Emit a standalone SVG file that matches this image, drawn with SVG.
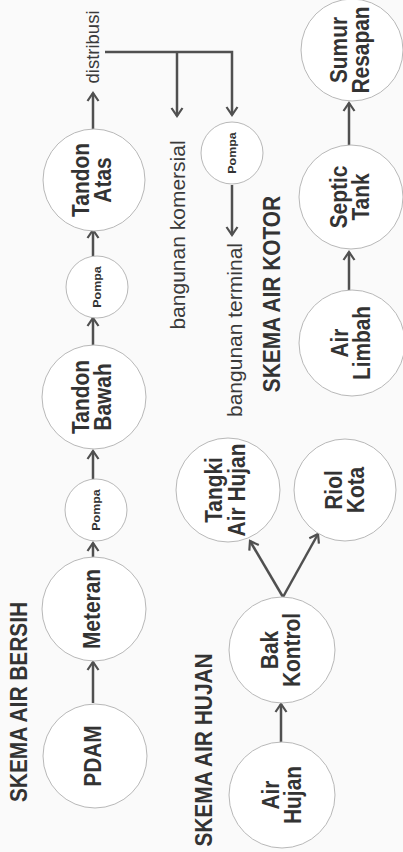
<svg xmlns="http://www.w3.org/2000/svg" width="403" height="852" viewBox="0 0 403 852">
<style>
.node circle{fill:#fff;stroke:#b8b8b8;stroke-width:1}
.lbl{font-family:"Liberation Sans",Arial,sans-serif;font-weight:bold;font-size:24px;fill:#333;text-anchor:middle}
.pl{font-family:"Liberation Sans",Arial,sans-serif;font-weight:bold;font-size:10px;fill:#333;text-anchor:middle}
.reg{font-family:"Liberation Sans",Arial,sans-serif;font-size:21px;fill:#3a3a3a;text-anchor:middle}
.conn line,.conn polyline{stroke:#505050;stroke-width:2.5;fill:none}
</style>
<defs>
<marker id="ah" markerUnits="userSpaceOnUse" markerWidth="14" markerHeight="14" refX="10" refY="7" orient="auto">
<path d="M2,1.5 L10,7 L2,12.5" fill="none" stroke="#505050" stroke-width="2.2"/>
</marker>
</defs>
<rect width="403" height="852" fill="#fafafa"/>

<g id="headings">
<g transform="translate(27,702) rotate(-90) scale(0.87,1)"><text class="lbl" x="0" y="0">SKEMA AIR BERSIH</text></g>
<g transform="translate(212,750) rotate(-90) scale(0.87,1)"><text class="lbl" x="0" y="0">SKEMA AIR HUJAN</text></g>
<g transform="translate(280,294) rotate(-90) scale(0.87,1)"><text class="lbl" x="0" y="0">SKEMA AIR KOTOR</text></g>
</g>

<g id="labels">
<g transform="translate(99,47) rotate(-90)"><text class="reg" style="font-size:18.5px" x="0" y="0">distribusi</text></g>
<g transform="translate(185,235) rotate(-90)"><text class="reg" x="0" y="0">bangunan komersial</text></g>
<g transform="translate(242,330) rotate(-90)"><text class="reg" x="0" y="0">bangunan terminal</text></g>
</g>

<g class="conn" id="connectors">
<line x1="93" y1="703" x2="93" y2="662" marker-end="url(#ah)"/>
<line x1="93" y1="557" x2="93" y2="543" marker-end="url(#ah)"/>
<line x1="93" y1="479" x2="93" y2="451" marker-end="url(#ah)"/>
<line x1="93" y1="345" x2="93" y2="318" marker-end="url(#ah)"/>
<line x1="93" y1="256" x2="93" y2="230" marker-end="url(#ah)"/>
<line x1="93" y1="130" x2="93" y2="93" marker-end="url(#ah)"/>
<polyline points="105,52 232,52 232,115" marker-end="url(#ah)"/>
<line x1="177" y1="52" x2="177" y2="116" marker-end="url(#ah)"/>
<line x1="232" y1="185" x2="232" y2="235" marker-end="url(#ah)"/>
<line x1="349" y1="290" x2="349" y2="252" marker-end="url(#ah)"/>
<line x1="349" y1="145" x2="349" y2="103" marker-end="url(#ah)"/>
<line x1="281" y1="743" x2="281" y2="704" marker-end="url(#ah)"/>
<line x1="283" y1="597" x2="250" y2="541" marker-end="url(#ah)"/>
<line x1="283" y1="597" x2="318" y2="534" marker-end="url(#ah)"/>
</g>

<g id="pdam" class="node"><circle cx="95" cy="756" r="52"/>
<g transform="translate(95,756) rotate(-90) scale(0.87,1)"><text class="lbl" y="6">PDAM</text></g></g>

<g id="meteran" class="node"><circle cx="94" cy="609" r="52"/>
<g transform="translate(94,609) rotate(-90) scale(0.87,1)"><text class="lbl" y="6">Meteran</text></g></g>

<g id="pompa1" class="node"><circle cx="96" cy="510" r="31"/>
<g transform="translate(96,510) rotate(-90) scale(1.25,1)"><text class="pl" y="3.5">Pompa</text></g></g>

<g id="tandon-bawah" class="node"><circle cx="94" cy="397" r="52"/>
<g transform="translate(94,397) rotate(-90) scale(0.87,1)"><text class="lbl" y="-5">Tandon</text><text class="lbl" y="17">Bawah</text></g></g>

<g id="pompa2" class="node"><circle cx="97" cy="287" r="31"/>
<g transform="translate(97,287) rotate(-90) scale(1.25,1)"><text class="pl" y="3.5">Pompa</text></g></g>

<g id="tandon-atas" class="node"><circle cx="94" cy="180" r="51"/>
<g transform="translate(94,180) rotate(-90) scale(0.87,1)"><text class="lbl" y="-5">Tandon</text><text class="lbl" y="17">Atas</text></g></g>

<g id="pompa3" class="node"><circle cx="232" cy="153" r="31"/>
<g transform="translate(232,153) rotate(-90) scale(1.25,1)"><text class="pl" y="3.5">Pompa</text></g></g>

<g id="air-hujan" class="node"><circle cx="282" cy="795" r="53"/>
<g transform="translate(282,795) rotate(-90) scale(0.87,1)"><text class="lbl" y="-3">Air</text><text class="lbl" y="19">Hujan</text></g></g>

<g id="bak-kontrol" class="node"><circle cx="282" cy="650" r="53"/>
<g transform="translate(282,650) rotate(-90) scale(0.87,1)"><text class="lbl" y="-4">Bak</text><text class="lbl" y="18">Kontrol</text></g></g>

<g id="tangki-air-hujan" class="node"><circle cx="228" cy="490" r="52"/>
<g transform="translate(228,490) rotate(-90) scale(0.87,1)"><text class="lbl" y="-6">Tangki</text><text class="lbl" y="17">Air Hujan</text></g></g>

<g id="riol-kota" class="node"><circle cx="345" cy="490" r="51"/>
<g transform="translate(345,490) rotate(-90) scale(0.87,1)"><text class="lbl" y="-3">Riol</text><text class="lbl" y="19">Kota</text></g></g>

<g id="air-limbah" class="node"><circle cx="352" cy="343" r="53"/>
<g transform="translate(352,343) rotate(-90) scale(0.87,1)"><text class="lbl" y="-4">Air</text><text class="lbl" y="18">Limbah</text></g></g>

<g id="septic-tank" class="node"><circle cx="351" cy="197" r="52"/>
<g transform="translate(351,197) rotate(-90) scale(0.87,1)"><text class="lbl" y="-4">Septic</text><text class="lbl" y="18">Tank</text></g></g>

<g id="sumur-resapan" class="node"><circle cx="352" cy="50" r="51"/>
<g transform="translate(352,50) rotate(-90) scale(0.87,1)"><text class="lbl" y="-5">Sumur</text><text class="lbl" y="17">Resapan</text></g></g>
</svg>
